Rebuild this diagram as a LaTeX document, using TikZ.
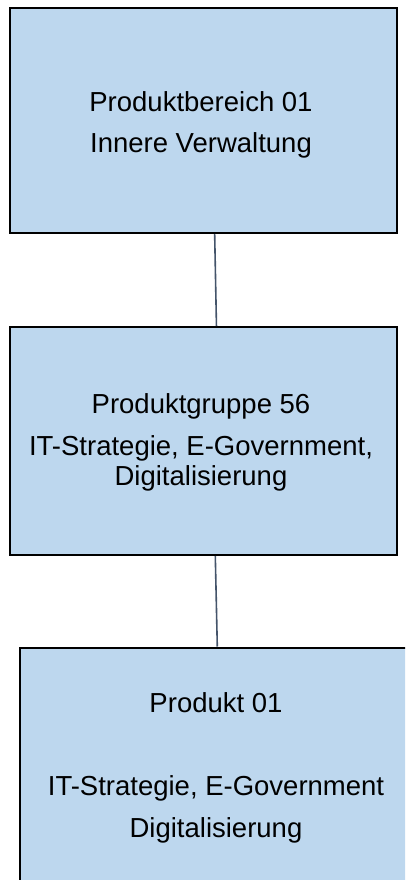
\documentclass[tikz,border=0pt]{standalone}
\usepackage{fontspec}
\setmainfont{Liberation Sans}
\usetikzlibrary{calc}
\definecolor{boxfill}{HTML}{BDD7EE}
\definecolor{connline}{HTML}{44546A}
\begin{document}
\begin{tikzpicture}[x=1pt,y=-1pt,
  box/.style={draw=black,line width=2pt,fill=boxfill,rectangle,inner sep=0pt},
  txt/.style={align=center,inner sep=0pt,anchor=base,text=black,font=\fontsize{27.5pt}{30pt}\selectfont},
  conn/.style={draw=connline,line width=1.6pt}]
\useasboundingbox (0,0) rectangle (405,880);
\clip (0,0) rectangle (405,880);
\fill[white] (0,0) rectangle (405,880);
\node[box,minimum width=387pt,minimum height=224.5pt] (b1) at (203,120.75) {};
\node[box,minimum width=386.5pt,minimum height=228pt] (b2) at (203.25,441) {};
\node[box,minimum width=393pt,minimum height=257.5pt] (b3) at (216.5,776.25) {};
\node[txt] (t1) at (201,152) {Produktbereich 01\\[10pt]Innere Verwaltung};
\node[txt] (t2) at (201,485) {Produktgruppe 56\\[12pt]IT-Strategie, E-Government,\\Digitalisierung};
\node[txt] (t3) at (216,837) {Produkt 01\\[53pt]IT-Strategie, E-Government\\[12pt]Digitalisierung};
\draw[conn] ($(b1.south west)!0.530!(b1.south east)$) -- ($(b2.north west)!0.534!(b2.north east)$);
\draw[conn] ($(b2.south west)!0.531!(b2.south east)$) -- ($(b3.north west)!0.502!(b3.north east)$);
\end{tikzpicture}
\end{document}
